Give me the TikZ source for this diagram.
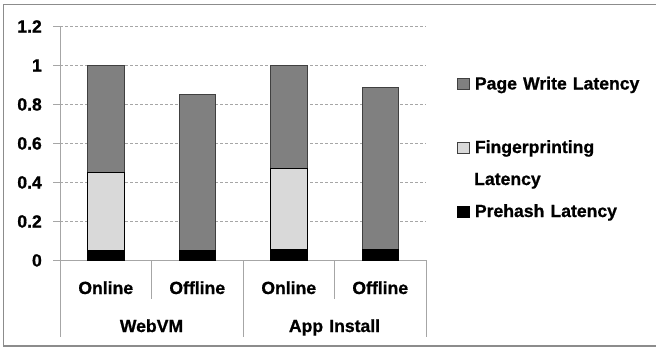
\documentclass[tikz,border=0pt]{standalone}
\usepackage{fontspec}
\setmainfont{Liberation Sans}
\newfontfamily\lblfont[FakeBold=0.9,WordSpace=1.25]{Liberation Sans Bold}
\definecolor{darkbar}{HTML}{808080}
\definecolor{lightbar}{HTML}{D9D9D9}
\definecolor{darkedge}{HTML}{404040}
\definecolor{axisc}{HTML}{A6A6A6}
\definecolor{framec}{HTML}{8C8C8C}
\begin{document}
\begin{tikzpicture}[x=1pt,y=-1pt,
  lbl/.style={font=\fontsize{17.6}{20}\lblfont, inner sep=0pt},
  gridl/.style={draw=axisc, line width=0.8pt, dash pattern=on 3pt off 2pt},
  axisl/.style={draw=axisc, line width=0.9pt},
  darkseg/.style={fill=darkbar, draw=darkedge, line width=0.9pt},
  lightseg/.style={fill=lightbar, draw=black, line width=0.8pt},
  blackseg/.style={fill=black, draw=black, line width=0.8pt},
  legsq/.style={line width=0.8pt}]
\useasboundingbox (0,0) rectangle (656,349);
% outer frame
\draw[framec, line width=1.6pt] (660,4.5) -- (3.5,4.5) -- (3.5,346) -- (660,346);
% gridlines and ticks
\foreach \v/\t in {0.2/0.2,0.4/0.4,0.6/0.6,0.8/0.8,1/1,1.2/1.2}{
  \draw[gridl] (60,{260-195*\v}) -- (426,{260-195*\v});
  \draw[axisl] (53,{260-195*\v}) -- (60,{260-195*\v});
}
\foreach \v/\t in {0/0,0.2/0.2,0.4/0.4,0.6/0.6,0.8/0.8,1/1,1.2/1.2}{
  \node[lbl, anchor=base east] (ytick\t) at (42,{266.5-195*\v}) {\t};
}
% axes
\draw[axisl] (60,26) -- (60,337);
\draw[axisl] (53,260) -- (426,260);
\draw[axisl] (151.5,260) -- (151.5,299);
\draw[axisl] (243,260) -- (243,337);
\draw[axisl] (334.5,260) -- (334.5,299);
\draw[axisl] (426,260) -- (426,337);
% bars
\def\bw{18.3}
% Bar 1
\draw[darkseg] ({105.75-\bw},{260-195*0.45}) rectangle ({105.75+\bw},{260-195*1.0});
\draw[lightseg] ({105.75-\bw},{260-195*0.05}) rectangle ({105.75+\bw},{260-195*0.45});
\draw[blackseg] ({105.75-\bw},260) rectangle ({105.75+\bw},{260-195*0.05});
% Bar 2
\draw[darkseg] ({197.25-\bw},{260-195*0.05}) rectangle ({197.25+\bw},{260-195*0.85});
\draw[blackseg] ({197.25-\bw},260) rectangle ({197.25+\bw},{260-195*0.05});
% Bar 3
\draw[darkseg] ({288.75-\bw},{260-195*0.468}) rectangle ({288.75+\bw},{260-195*1.0});
\draw[lightseg] ({288.75-\bw},{260-195*0.056}) rectangle ({288.75+\bw},{260-195*0.468});
\draw[blackseg] ({288.75-\bw},260) rectangle ({288.75+\bw},{260-195*0.056});
% Bar 4
\draw[darkseg] ({380.25-\bw},{260-195*0.056}) rectangle ({380.25+\bw},{260-195*0.886});
\draw[blackseg] ({380.25-\bw},260) rectangle ({380.25+\bw},{260-195*0.056});
% category labels
\node[lbl, anchor=base] (c1) at (105.75,294) {Online};
\node[lbl, anchor=base] (c2) at (197.25,294) {Offline};
\node[lbl, anchor=base] (c3) at (288.75,294) {Online};
\node[lbl, anchor=base] (c4) at (380.25,294) {Offline};
\node[lbl, anchor=base] (g1) at (151.5,332) {WebVM};
\node[lbl, anchor=base] (g2) at (334.5,332) {App Install};
% legend
\draw[legsq, fill=darkbar, draw=darkedge] (457.5,78.2) rectangle (469,89);
\node[lbl, anchor=base west] (leg1) at (474.7,89.5) {Page Write Latency};
\draw[legsq, fill=lightbar, draw=darkedge] (457.5,142.4) rectangle (469,153);
\node[lbl, anchor=base west] (leg2) at (474.7,153) {Fingerprinting};
\node[lbl, anchor=base west] (leg2b) at (474,185) {Latency};
\draw[legsq, fill=black, draw=black] (457.5,206.4) rectangle (469,217);
\node[lbl, anchor=base west] (leg3) at (474.7,217) {Prehash Latency};
\end{tikzpicture}
\end{document}
